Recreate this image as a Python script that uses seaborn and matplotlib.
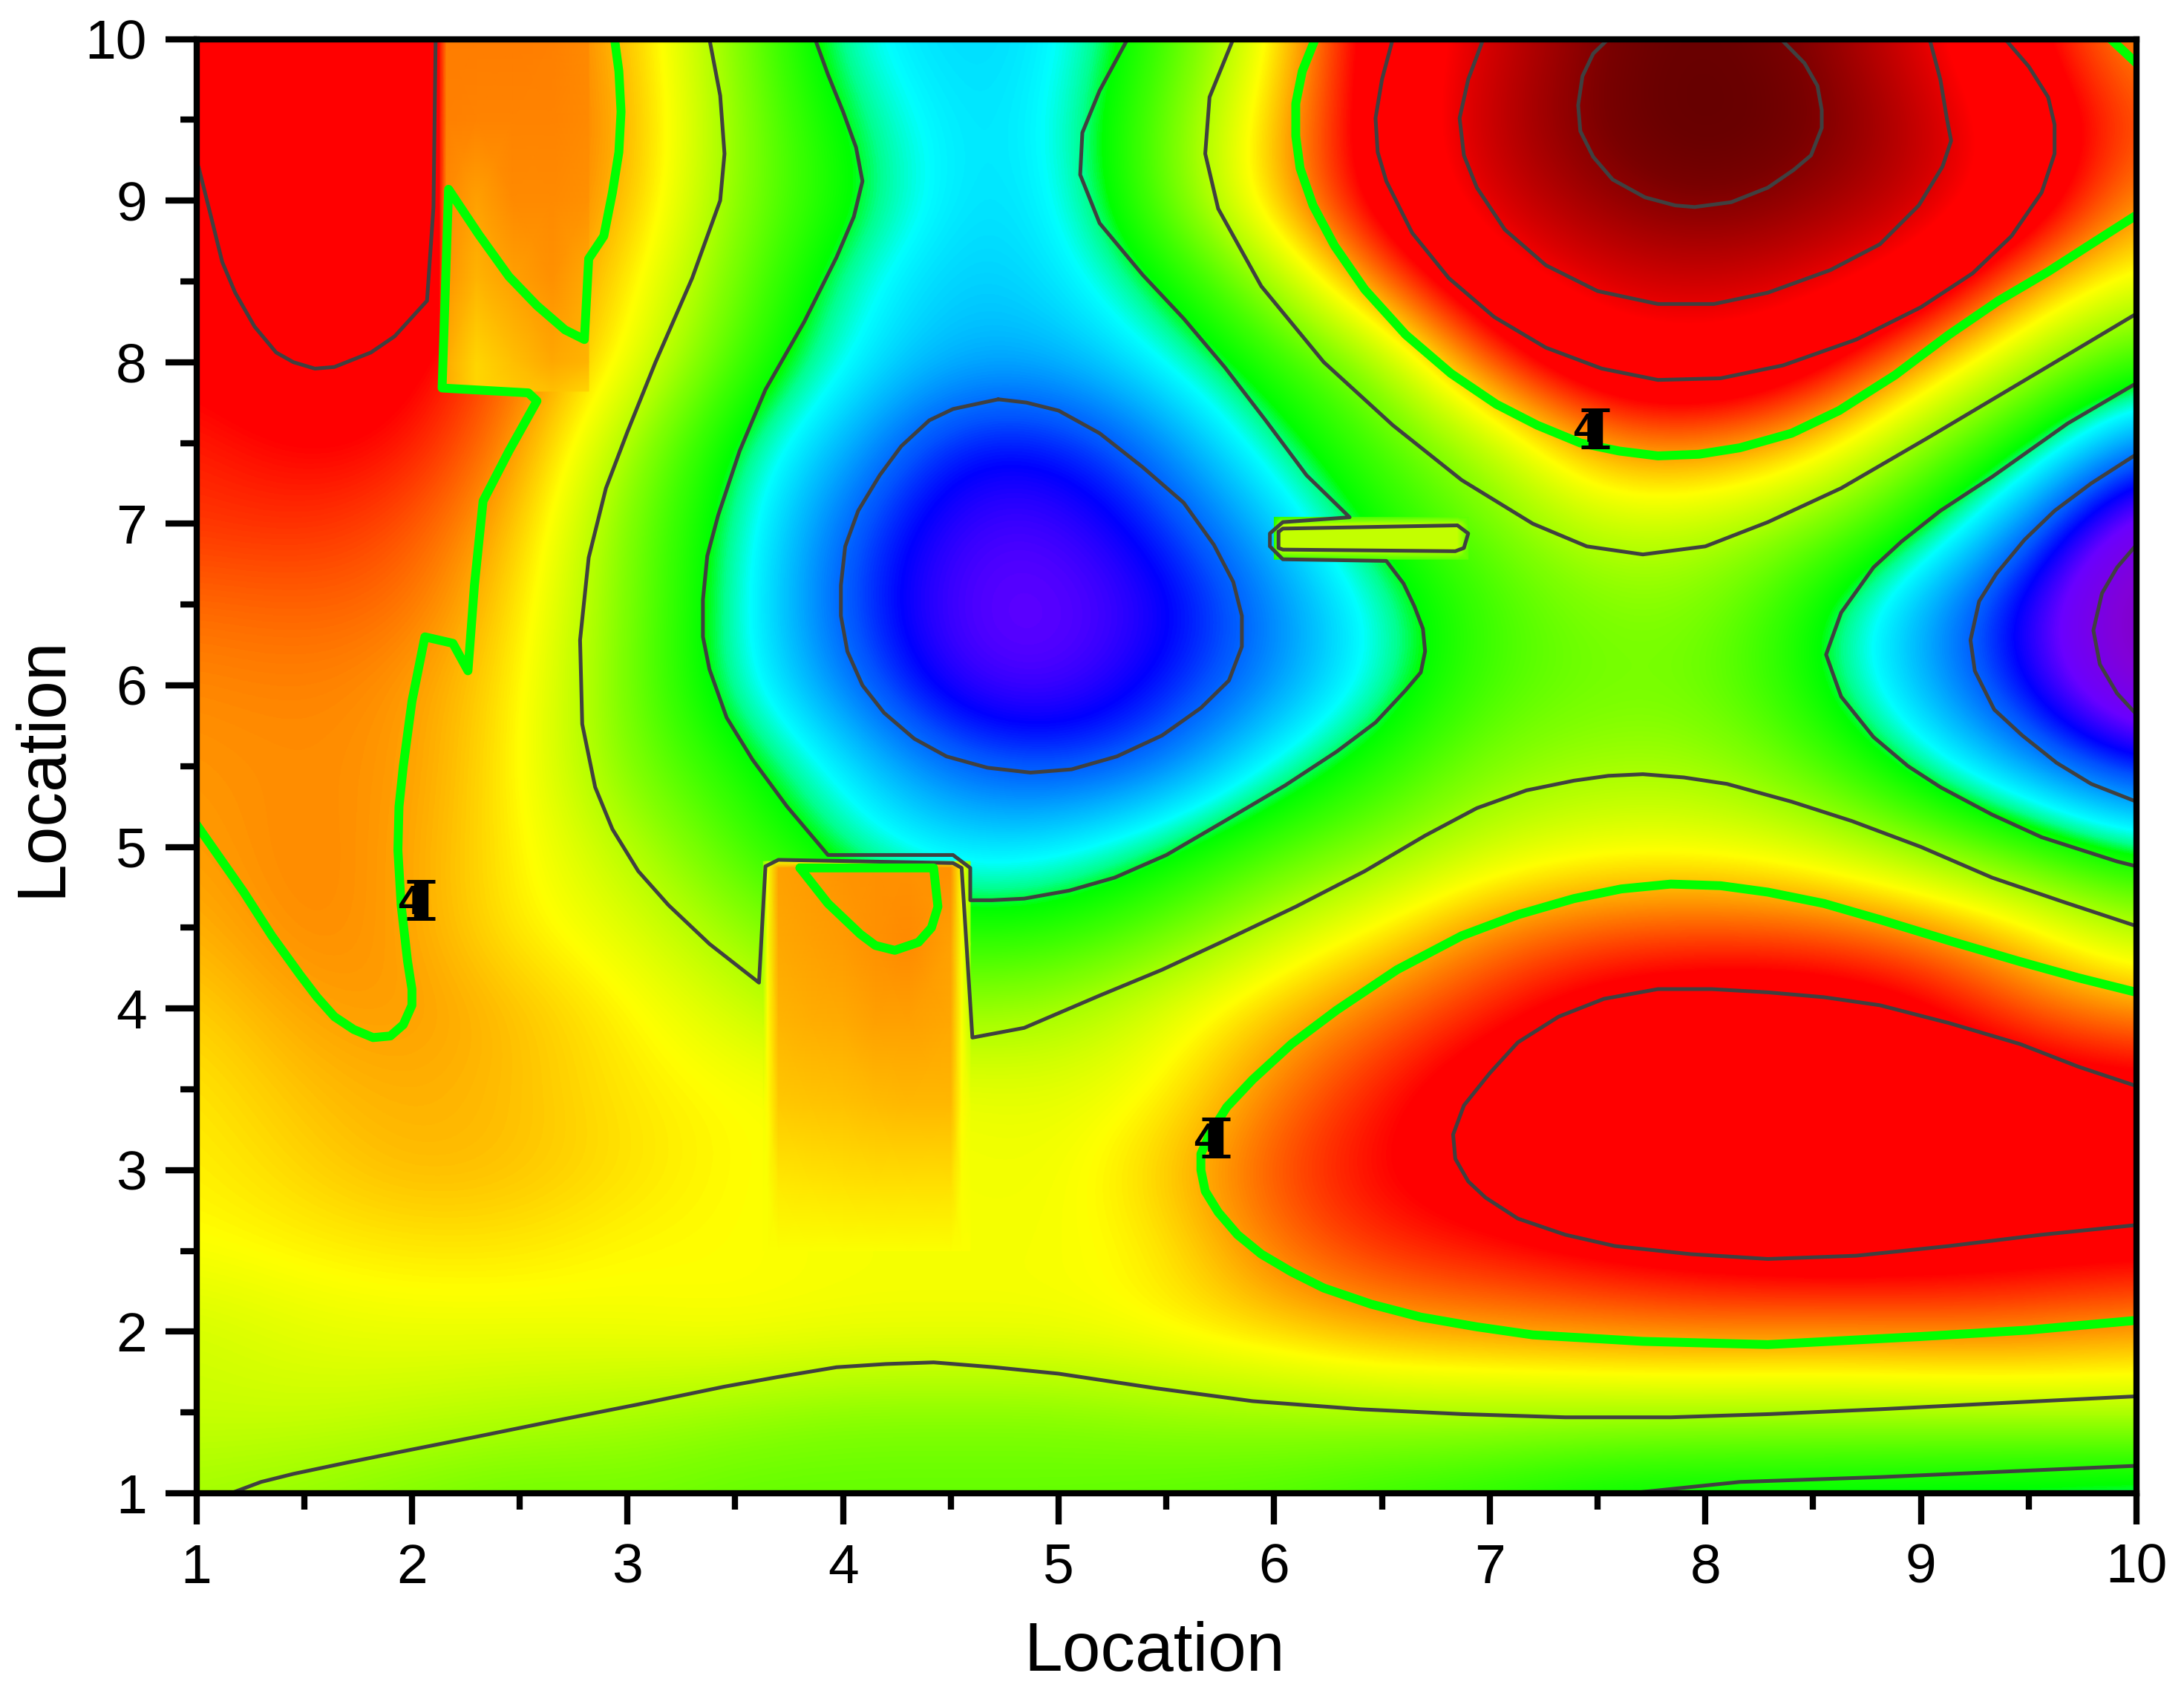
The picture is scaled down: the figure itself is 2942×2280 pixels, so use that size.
import numpy as np
import pandas as pd
import seaborn as sns
import matplotlib.pyplot as plt
from matplotlib.colors import LinearSegmentedColormap

# Grid of the main surface, y from 10 down to 1, x from 1 to 10 in steps of 0.5
malla_x = [1, 1.5, 2, 2.5, 3, 3.5, 4, 4.5, 5, 5.5, 6, 6.5, 7, 7.5, 8, 8.5, 9, 9.5, 10]
malla_z = [
    [5.7, 5.9, 5.9, 4.8, 4.35, 3.3, 2.3, 2.05, 2.15, 2.9, 4.0, 5.6, 6.55, 7.45, 7.85, 7.35, 6.4, 5.3, 4.4],
    [5.6, 5.9, 5.9, 4.8, 4.45, 3.35, 2.55, 2.1, 2.2, 3.15, 4.25, 5.6, 6.8, 7.55, 8.0, 7.6, 6.8, 5.7, 4.8],
    [5.4, 5.9, 5.9, 4.75, 4.4, 3.3, 2.7, 2.1, 2.15, 3.15, 4.3, 5.5, 6.55, 7.2, 7.55, 7.2, 6.7, 5.7, 4.45],
    [5.2, 5.8, 5.7, 4.7, 4.15, 3.2, 2.35, 2.0, 2.1, 2.6, 3.45, 4.7, 5.85, 6.5, 6.7, 6.45, 5.8, 4.5, 3.85],
    [5.25, 5.55, 5.35, 4.65, 4.0, 2.95, 2.25, 1.9, 1.9, 2.25, 2.8, 3.4, 4.85, 5.75, 5.95, 5.45, 4.4, 3.5, 2.8],
    [5.05, 5.25, 5.15, 4.5, 3.5, 2.5, 1.95, 1.3, 1.3, 1.75, 2.45, 3.0, 3.55, 4.55, 4.65, 4.25, 3.35, 2.6, 1.65],
    [4.95, 5.0, 4.85, 4.3, 3.25, 2.4, 1.6, 1.05, 1.0, 1.4, 2.0, 2.75, 3.2, 3.7, 3.65, 3.3, 2.65, 1.7, 0.6],
    [4.7, 4.75, 4.7, 4.15, 3.25, 2.35, 1.5, 0.95, 0.9, 1.15, 1.7, 2.35, 2.95, 3.3, 3.3, 2.65, 1.9, 1.1, 0.2],
    [4.55, 4.6, 4.5, 4.1, 3.2, 2.35, 1.7, 1.05, 0.95, 1.3, 1.75, 2.35, 3.0, 3.2, 3.2, 2.65, 1.9, 1.2, 0.35],
    [4.5, 4.55, 4.5, 4.05, 3.25, 2.75, 2.15, 1.6, 1.45, 1.65, 2.3, 2.8, 3.3, 3.45, 3.45, 3.05, 2.4, 1.8, 1.25],
    [4.45, 4.6, 4.45, 4.05, 3.6, 3.0, 2.45, 2.1, 2.15, 2.5, 2.95, 3.3, 3.7, 3.9, 3.9, 3.75, 3.3, 2.85, 2.4],
    [4.35, 4.6, 4.45, 4.05, 3.85, 3.4, 3.0, 2.7, 2.75, 3.1, 3.65, 4.05, 4.55, 4.75, 4.8, 4.75, 4.55, 4.1, 3.5],
    [4.2, 4.45, 4.5, 4.3, 4.05, 3.75, 3.4, 3.4, 3.45, 3.85, 4.25, 4.65, 5.05, 5.45, 5.6, 5.6, 5.35, 4.75, 4.45],
    [4.1, 4.3, 4.4, 4.3, 4.1, 4.0, 3.95, 3.9, 3.85, 4.0, 4.6, 5.1, 5.55, 5.8, 5.95, 5.95, 5.75, 5.6, 5.45],
    [4.05, 4.2, 4.35, 4.3, 4.15, 4.0, 3.95, 3.95, 3.9, 4.25, 4.85, 5.25, 5.45, 5.9, 6.0, 6.05, 5.95, 5.85, 5.7],
    [3.98, 4.05, 4.1, 4.1, 4.0, 4.0, 3.95, 3.95, 3.95, 4.05, 4.65, 5.0, 5.15, 5.3, 5.45, 5.55, 5.5, 5.4, 5.35],
    [3.72, 3.85, 3.9, 3.9, 3.95, 4.0, 3.95, 3.95, 3.95, 4.05, 4.2, 4.4, 4.47, 4.55, 4.6, 4.55, 4.6, 4.6, 4.45],
    [3.7, 3.72, 3.65, 3.58, 3.5, 3.4, 3.3, 3.3, 3.3, 3.4, 3.43, 3.48, 3.5, 3.5, 3.5, 3.5, 3.52, 3.55, 3.6],
    [3.45, 3.35, 3.25, 3.15, 3.2, 3.1, 3.1, 3.1, 3.1, 3.05, 3.0, 2.85, 2.75, 2.55, 2.5, 2.47, 2.42, 2.37, 2.3],
]

# Local pieces of the surface where it jumps
parche_arriba_x = [2.13, 2.16, 2.3, 2.47, 2.65, 2.82]
parche_arriba_y = [10, 9.5, 9, 8.5, 8, 7.82]
parche_arriba_z = [
    [5.1, 4.62, 4.62, 4.62, 4.6, 4.55],
    [5.1, 4.6, 4.58, 4.58, 4.58, 4.55],
    [5.1, 4.55, 4.45, 4.55, 4.55, 4.52],
    [5.1, 4.5, 4.35, 4.45, 4.52, 4.4],
    [5.1, 4.4, 4.2, 4.3, 4.42, 4.35],
    [5.1, 4.4, 4.2, 4.25, 4.3, 4.2],
]
parche_caja_x = [3.63, 3.65, 3.70, 3.85, 4.0, 4.15, 4.3, 4.5, 4.55, 4.59]
parche_caja_y = [4.91, 4.87, 4.4, 3.9, 3.4, 2.9, 2.5]
parche_caja_z = [
    [3.3, 3.6, 3.9, 3.9, 3.9, 3.9, 3.9, 3.9, 3.6, 3.3],
    [3.3, 3.95, 4.45, 4.47, 4.5, 4.52, 4.53, 4.53, 3.98, 3.4],
    [3.45, 3.95, 4.42, 4.45, 4.47, 4.52, 4.55, 4.45, 3.95, 3.5],
    [3.7, 4.0, 4.35, 4.38, 4.4, 4.44, 4.44, 4.42, 3.97, 3.65],
    [3.95, 4.0, 4.25, 4.27, 4.29, 4.32, 4.33, 4.33, 4.0, 3.9],
    [3.97, 3.98, 4.1, 4.12, 4.13, 4.15, 4.15, 4.15, 3.98, 3.95],
    [3.97, 3.97, 3.97, 3.97, 3.97, 3.97, 3.97, 3.97, 3.97, 3.97],
]
parche_ranura_x = [6.0, 6.03, 6.85, 6.9]
parche_ranura_y = [7.04, 6.99, 6.84, 6.78]
parche_ranura_z = [
    [2.7, 2.9, 3.1, 3.1],
    [2.8, 3.65, 3.65, 3.1],
    [2.8, 3.65, 3.65, 3.1],
    [2.7, 2.9, 3.1, 3.1],
]

# Colour scale
escala_z = [0, 0.5, 0.9, 1.25, 1.5, 1.9, 2.25, 2.45, 2.6, 3.5, 4.0, 4.5, 5.2, 6.2, 6.5, 7.5, 8.0]
escala_color = ["#780090", "#8200d7", "#6a00ff", "#0000ff", "#0050ff", "#00b0ff", "#00ffff", "#00ff90", "#00ff00",
                "#aaff00", "#ffff00", "#ff9600", "#ff0000", "#ff0000", "#dc0000", "#780000", "#5a0000"]

# Thick lines
verde_arco = [(6.19, 10), (6.13, 9.8), (6.10, 9.6), (6.10, 9.4), (6.12, 9.2), (6.18, 8.97), (6.28, 8.72),
              (6.42, 8.45), (6.61, 8.17), (6.82, 7.93), (7.03, 7.74), (7.22, 7.61), (7.42, 7.50), (7.60, 7.45),
              (7.78, 7.42), (7.97, 7.43), (8.16, 7.47), (8.40, 7.56), (8.62, 7.70), (8.88, 7.92), (9.13, 8.17),
              (9.36, 8.38), (9.59, 8.56), (9.80, 8.74), (10, 8.91)]
verde_esquina = [(9.88, 10), (10, 9.85)]
verde_bajo = [(10, 4.10), (9.73, 4.19), (9.46, 4.29), (9.13, 4.42), (8.81, 4.55), (8.55, 4.65), (8.29, 4.72),
              (8.07, 4.76), (7.84, 4.77), (7.61, 4.74), (7.39, 4.68), (7.13, 4.58), (6.87, 4.45), (6.57, 4.24),
              (6.29, 3.99), (6.08, 3.78), (5.90, 3.56), (5.78, 3.39), (5.70, 3.22), (5.66, 3.1), (5.66, 3.0),
              (5.68, 2.87), (5.74, 2.74), (5.83, 2.60), (5.94, 2.48), (6.08, 2.37), (6.23, 2.27), (6.45, 2.17),
              (6.68, 2.09), (6.94, 2.03), (7.2, 1.98), (7.71, 1.94), (8.29, 1.92), (9.0, 1.97), (9.5, 2.01),
              (10, 2.07)]
verde_izq = [(1, 5.14), (1.11, 4.93), (1.22, 4.72), (1.35, 4.45), (1.48, 4.21), (1.56, 4.07), (1.64, 3.95),
             (1.73, 3.87), (1.82, 3.82), (1.90, 3.83), (1.96, 3.9), (2.0, 4.02), (2.0, 4.12), (1.98, 4.29),
             (1.95, 4.64), (1.935, 4.98), (1.94, 5.25), (1.96, 5.5), (2.0, 5.9), (2.06, 6.3), (2.19, 6.26),
             (2.26, 6.09), (2.29, 6.62), (2.33, 7.14), (2.45, 7.45), (2.58, 7.76), (2.54, 7.81), (2.14, 7.84),
             (2.17, 9.07), (2.31, 8.79), (2.45, 8.53), (2.58, 8.35), (2.71, 8.2), (2.80, 8.14), (2.82, 8.64),
             (2.89, 8.78), (2.93, 9.05), (2.96, 9.3), (2.97, 9.55), (2.96, 9.8), (2.94, 10)]
verde_caja = [(3.80, 4.87), (4.42, 4.87), (4.44, 4.63), (4.41, 4.5), (4.35, 4.41), (4.24, 4.36), (4.15, 4.39),
              (4.08, 4.46), (3.93, 4.65), (3.80, 4.87)]

# Thin lines
gris_exterior = [(3.38, 10), (3.43, 9.65), (3.45, 9.29), (3.43, 9.0), (3.30, 8.52), (3.13, 8.0), (3.0, 7.57),
                 (2.9, 7.22), (2.82, 6.79), (2.78, 6.28), (2.79, 5.76), (2.85, 5.37), (2.93, 5.11), (3.05, 4.85),
                 (3.19, 4.64), (3.38, 4.4), (3.61, 4.16), (3.64, 4.88), (3.70, 4.92), (4.51, 4.9), (4.55, 4.87),
                 (4.60, 3.82), (4.84, 3.88), (5.19, 4.08), (5.48, 4.24), (5.77, 4.42), (6.1, 4.63), (6.42, 4.85),
                 (6.7, 5.07), (6.94, 5.24), (7.17, 5.35), (7.39, 5.41), (7.55, 5.44), (7.71, 5.45), (7.9, 5.43),
                 (8.1, 5.39), (8.4, 5.28), (8.68, 5.16), (9.0, 5.0), (9.33, 4.81), (9.66, 4.66), (10, 4.51)]
gris_interior = [(3.87, 10), (3.93, 9.78), (4.0, 9.55), (4.06, 9.33), (4.09, 9.12), (4.05, 8.9), (3.97, 8.65),
                 (3.82, 8.25), (3.64, 7.83), (3.52, 7.45), (3.42, 7.05), (3.37, 6.8), (3.35, 6.53), (3.35, 6.3),
                 (3.38, 6.1), (3.46, 5.8), (3.58, 5.54), (3.74, 5.25), (3.93, 4.95), (4.51, 4.95), (4.59, 4.87),
                 (4.59, 4.67), (4.69, 4.67), (4.84, 4.68), (5.05, 4.73), (5.26, 4.81), (5.5, 4.95), (5.77, 5.16),
                 (6.05, 5.38), (6.29, 5.59), (6.47, 5.77), (6.61, 5.97), (6.68, 6.08), (6.70, 6.21), (6.69, 6.35),
                 (6.65, 6.49), (6.6, 6.63), (6.52, 6.77), (6.04, 6.78), (5.98, 6.86), (5.98, 6.94), (6.04, 7.01),
                 (6.35, 7.04), (6.15, 7.3), (5.96, 7.64), (5.77, 7.97), (5.58, 8.27), (5.39, 8.54), (5.19, 8.86),
                 (5.1, 9.16), (5.11, 9.42), (5.19, 9.68), (5.32, 10)]
gris_ranura = [(6.02, 6.95), (6.04, 6.97), (6.85, 6.99), (6.9, 6.94), (6.88, 6.85), (6.84, 6.83), (6.04, 6.84),
               (6.02, 6.85), (6.02, 6.95)]
gris_cuenca = [(4.72, 7.77), (4.51, 7.71), (4.40, 7.64), (4.27, 7.48), (4.17, 7.30), (4.07, 7.08), (4.01, 6.86),
               (3.99, 6.62), (3.99, 6.43), (4.02, 6.21), (4.09, 6.0), (4.19, 5.83), (4.33, 5.67), (4.48, 5.56),
               (4.67, 5.49), (4.87, 5.46), (5.06, 5.48), (5.27, 5.56), (5.48, 5.69), (5.66, 5.86), (5.79, 6.03),
               (5.85, 6.24), (5.85, 6.43), (5.81, 6.64), (5.72, 6.87), (5.58, 7.13), (5.39, 7.35), (5.19, 7.56),
               (5.0, 7.70), (4.85, 7.75), (4.72, 7.77)]
gris_der_1 = [(10, 7.87), (9.68, 7.62), (9.33, 7.29), (9.09, 7.08), (8.91, 6.89), (8.78, 6.73), (8.63, 6.45),
              (8.56, 6.19), (8.63, 5.93), (8.78, 5.68), (8.94, 5.50), (9.09, 5.37), (9.33, 5.20), (9.56, 5.06),
              (9.91, 4.91), (10, 4.88)]
gris_der_2 = [(10, 7.43), (9.79, 7.25), (9.62, 7.08), (9.48, 6.90), (9.35, 6.69), (9.27, 6.52), (9.23, 6.28),
              (9.25, 6.09), (9.34, 5.85), (9.47, 5.69), (9.63, 5.52), (9.79, 5.39), (10, 5.28)]
gris_der_3 = [(10, 6.87), (9.91, 6.73), (9.84, 6.57), (9.80, 6.34), (9.83, 6.13), (9.91, 5.95), (10, 5.82)]
gris_rojo_bajo = [(10, 3.52), (9.73, 3.64), (9.46, 3.78), (9.13, 3.91), (8.81, 4.02), (8.55, 4.07), (8.29, 4.1),
                  (8.03, 4.12), (7.78, 4.12), (7.53, 4.06), (7.32, 3.95), (7.13, 3.79), (7.0, 3.6), (6.88, 3.4),
                  (6.83, 3.22), (6.84, 3.07), (6.9, 2.93), (6.98, 2.83), (7.13, 2.7), (7.35, 2.6), (7.58, 2.53),
                  (7.93, 2.48), (8.29, 2.45), (8.7, 2.47), (9.13, 2.53), (9.56, 2.6), (10, 2.66)]
gris_alto_0 = [(5.81, 10), (5.70, 9.64), (5.68, 9.29), (5.74, 8.95), (5.94, 8.47), (6.23, 8.0), (6.55, 7.61),
               (6.87, 7.27), (7.2, 7.0), (7.45, 6.86), (7.71, 6.81), (8.0, 6.86), (8.29, 7.01), (8.63, 7.22),
               (9.03, 7.53), (9.56, 7.95), (10, 8.3)]
gris_alto_1 = [(6.55, 10), (6.5, 9.75), (6.47, 9.51), (6.48, 9.3), (6.52, 9.12), (6.64, 8.8), (6.81, 8.52),
               (7.02, 8.28), (7.26, 8.09), (7.52, 7.96), (7.78, 7.89), (8.07, 7.9), (8.36, 7.98), (8.7, 8.14),
               (9.0, 8.34), (9.24, 8.55), (9.42, 8.78), (9.56, 9.05), (9.62, 9.29), (9.62, 9.47), (9.59, 9.64),
               (9.5, 9.83), (9.39, 10)]
gris_alto_2 = [(6.97, 10), (6.9, 9.75), (6.86, 9.51), (6.88, 9.28), (6.94, 9.08), (7.07, 8.82), (7.26, 8.6),
               (7.5, 8.44), (7.78, 8.36), (8.04, 8.36), (8.29, 8.43), (8.58, 8.57), (8.81, 8.73), (8.99, 8.97),
               (9.1, 9.21), (9.14, 9.37), (9.12, 9.51), (9.09, 9.75), (9.04, 10)]
gris_alto_3 = [(7.55, 10), (7.48, 9.91), (7.43, 9.77), (7.41, 9.59), (7.42, 9.43), (7.48, 9.27), (7.57, 9.13),
               (7.72, 9.02), (7.86, 8.97), (7.95, 8.96), (8.12, 8.99), (8.29, 9.08), (8.41, 9.19), (8.49, 9.28),
               (8.54, 9.45), (8.54, 9.56), (8.52, 9.71), (8.46, 9.85), (8.35, 10)]
gris_rojo_izq = [(1.01, 9.21), (1.07, 8.89), (1.12, 8.62), (1.18, 8.43), (1.27, 8.22), (1.37, 8.06), (1.45, 8.0),
                 (1.55, 7.96), (1.64, 7.97), (1.81, 8.06), (1.92, 8.16), (2.07, 8.38), (2.10, 8.96), (2.11, 10)]
gris_abajo_1 = [(1.16, 1), (1.3, 1.07), (1.45, 1.12), (1.7, 1.19), (1.96, 1.26), (2.3, 1.35), (2.67, 1.45),
                (3.05, 1.55), (3.45, 1.66), (3.7, 1.72), (3.97, 1.78), (4.2, 1.8), (4.42, 1.81), (4.7, 1.78),
                (5.0, 1.74), (5.45, 1.65), (5.9, 1.57), (6.4, 1.52), (6.87, 1.49), (7.35, 1.47), (7.84, 1.47),
                (8.3, 1.49), (8.81, 1.52), (9.4, 1.56), (10, 1.6)]
gris_abajo_2 = [(7.65, 1.0), (8.16, 1.07), (8.81, 1.1), (10, 1.17)]

# Marks with their bars
marca_x = [2.04, 7.49, 5.73]
marca_y = [4.67, 7.59, 3.2]
marca_err = [0.115, 0.115, 0.115]

ticks = [1, 2, 3, 4, 5, 6, 7, 8, 9, 10]
ticks_menores = [1.5, 2.5, 3.5, 4.5, 5.5, 6.5, 7.5, 8.5, 9.5]

sns.set_theme(style="ticks", font="Liberation Sans")
plt.rcParams['font.family'] = ['Liberation Sans', 'DejaVu Sans']

fig = plt.figure(figsize=(14.71, 11.4), dpi=200)
ax = fig.add_axes([264.5 / 2942, (2280 - 2011) / 2280, (2878 - 264.5) / 2942, (2011 - 52.5) / 2280])

mapa = LinearSegmentedColormap.from_list("mapa", [(z / 8, c) for z, c in zip(escala_z, escala_color)], N=512)

paso = 0.25
ax.imshow(malla_z, extent=(malla_x[0] - paso, malla_x[-1] + paso, 1 - paso, 10 + paso), cmap=mapa, vmin=0, vmax=8,
          aspect='auto', origin='upper', interpolation='bicubic', interpolation_stage='data', zorder=1)
for px, py, pz in [(parche_arriba_x, parche_arriba_y, parche_arriba_z), (parche_caja_x, parche_caja_y, parche_caja_z),
                   (parche_ranura_x, parche_ranura_y, parche_ranura_z)]:
    ax.pcolormesh(px, py, pz, cmap=mapa, vmin=0, vmax=8, shading='gouraud', zorder=2)


def dibuja(puntos, color, ancho):
    df = pd.DataFrame(puntos, columns=["x", "y"])
    sns.lineplot(data=df, x="x", y="y", sort=False, estimator=None, color=color, linewidth=ancho, ax=ax,
                 zorder=3, solid_joinstyle='round', solid_capstyle='round')


for linea in [gris_exterior, gris_interior, gris_ranura, gris_cuenca, gris_der_1, gris_der_2, gris_der_3,
              gris_rojo_bajo, gris_alto_0, gris_alto_1, gris_alto_2, gris_alto_3, gris_rojo_izq,
              gris_abajo_1, gris_abajo_2]:
    dibuja(linea, "#404040", 1.8)
for linea in [verde_arco, verde_esquina, verde_bajo, verde_izq, verde_caja]:
    dibuja(linea, "#00ff00", 4.3)

# Marks: bars with caps and the overlapping labels
ax.errorbar(marca_x, marca_y, yerr=marca_err, fmt='none', ecolor='black', elinewidth=7, capsize=7, capthick=1.8,
            zorder=4)
for x, y in zip(marca_x, marca_y):
    ax.text(x - 0.05, y - 0.02, "4", fontsize=20, fontweight='bold', color='black', ha='center', va='center',
            zorder=5)

ax.set_xlim(1, 10)
ax.set_ylim(1, 10)
ax.set_xticks(ticks)
ax.set_yticks(ticks)
ax.set_xticks(ticks_menores, minor=True)
ax.set_yticks(ticks_menores, minor=True)
ax.tick_params(which='major', direction='out', length=15, width=3, labelsize=27, colors='black', pad=9)
ax.tick_params(which='minor', direction='out', length=8, width=3, colors='black')
ax.set_xlabel("Location", fontsize=33.5, color='black', labelpad=13)
ax.set_ylabel("Location", fontsize=33.5, color='black', labelpad=5)
ax.xaxis.label.set_x(0.494)
for lado in ['top', 'right', 'bottom', 'left']:
    ax.spines[lado].set_visible(True)
    ax.spines[lado].set_linewidth(3)
    ax.spines[lado].set_color('black')
    ax.spines[lado].set_zorder(6)

fig.savefig("out.png", dpi=200)
